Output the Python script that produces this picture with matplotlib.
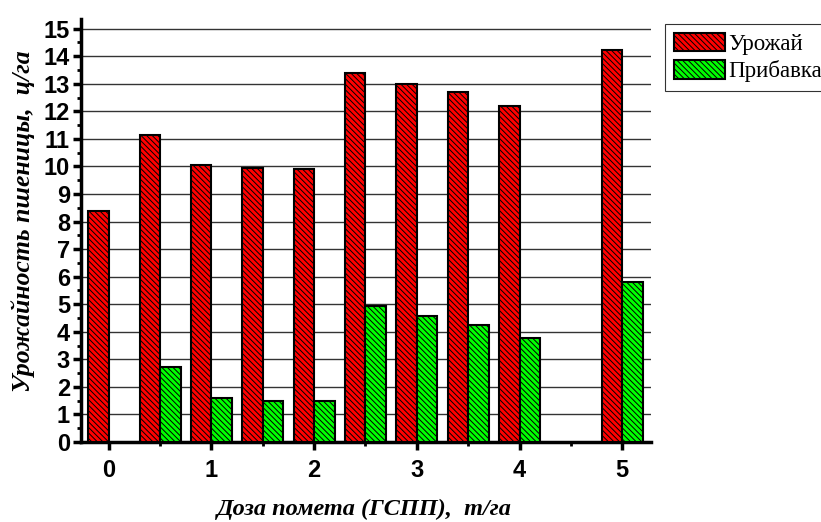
import matplotlib
matplotlib.use("Agg")
import matplotlib.pyplot as plt
import numpy as np
from matplotlib.ticker import MultipleLocator

plt.rcParams['hatch.linewidth'] = 0.7

doses = [0, 0.5, 1, 1.5, 2, 2.5, 3, 3.5, 4, 5]
yield_vals = [8.40, 11.15, 10.04, 9.93, 9.92, 13.40, 13.00, 12.71, 12.20, 14.24]
gain_vals = [0.0, 2.72, 1.60, 1.49, 1.48, 4.93, 4.56, 4.26, 3.77, 5.80]
xtick_labels = ['0', '1', '2', '3', '4', '5']
series_names = ['Урожай', 'Прибавка']

fig = plt.figure(figsize=(8.21, 5.22), dpi=100)
ax = fig.add_axes([81/821, 1-442/522, (651-81)/821, (442-19)/522])

w = 0.2
x = np.array(doses)
ax.bar(x - w, yield_vals, width=w, align='edge', color='#ff0000', edgecolor='black',
       linewidth=1.5, hatch='\\\\\\\\\\\\', label=series_names[0], zorder=3)
gx = np.array([d for d, g in zip(doses, gain_vals) if g > 0])
gv = [g for g in gain_vals if g > 0]
ax.bar(gx, gv, width=w, align='edge', color='#00ff00', edgecolor='black',
       linewidth=1.5, hatch='\\\\\\\\\\\\', label=series_names[1], zorder=3)

ax.set_xlim(-0.27, 5.28)
ax.set_ylim(0, 15.35)
ax.set_xticks(range(6))
ax.set_xticklabels(xtick_labels)
ax.xaxis.set_minor_locator(MultipleLocator(0.5))
ax.set_yticks(range(16))
ax.yaxis.set_minor_locator(MultipleLocator(0.5))

ax.yaxis.grid(True, which='major', color='#333333', linewidth=1.0, zorder=0)
ax.set_axisbelow(True)

for s in ['top', 'right']:
    ax.spines[s].set_visible(False)
for s in ['left', 'bottom']:
    ax.spines[s].set_linewidth(2.5)

ax.tick_params(axis='both', which='major', direction='out', length=6, width=2.5,
               labelsize=17)
ax.tick_params(axis='both', which='minor', direction='out', length=3, width=2)
ax.tick_params(axis='y', which='major', pad=2)
for lab in ax.get_xticklabels() + ax.get_yticklabels():
    lab.set_fontfamily('Liberation Sans')
    lab.set_fontweight('bold')
ax.tick_params(axis='x', pad=6)

ax.set_ylabel('Урожайность пшеницы,  ц/га', fontfamily='Liberation Serif',
              fontsize=18.5, fontweight='bold', fontstyle='italic')
ax.yaxis.set_label_coords((23-81)/570, (442-221)/423, transform=ax.transAxes)
ax.yaxis.label.set_verticalalignment('center')
ax.yaxis.label.set_horizontalalignment('center')
ax.set_xlabel('Доза помета (ГСПП),  т/га', fontfamily='Liberation Serif',
              fontsize=17.5, fontweight='bold', fontstyle='italic')
ax.xaxis.set_label_coords((364-81)/570, -(509-442)/423, transform=ax.transAxes)
ax.xaxis.label.set_verticalalignment('center')

leg = fig.legend(loc='upper left', bbox_to_anchor=(665/821, 1-24/522),
                 prop={'family': 'Liberation Serif', 'size': 16.5},
                 frameon=True, fancybox=False, edgecolor='black',
                 handlelength=2.22, handleheight=0.87, handletextpad=0.15,
                 borderpad=0.38, labelspacing=0.22, borderaxespad=0)
leg.get_frame().set_linewidth(0.8)

fig.savefig('out.png', dpi=100)
